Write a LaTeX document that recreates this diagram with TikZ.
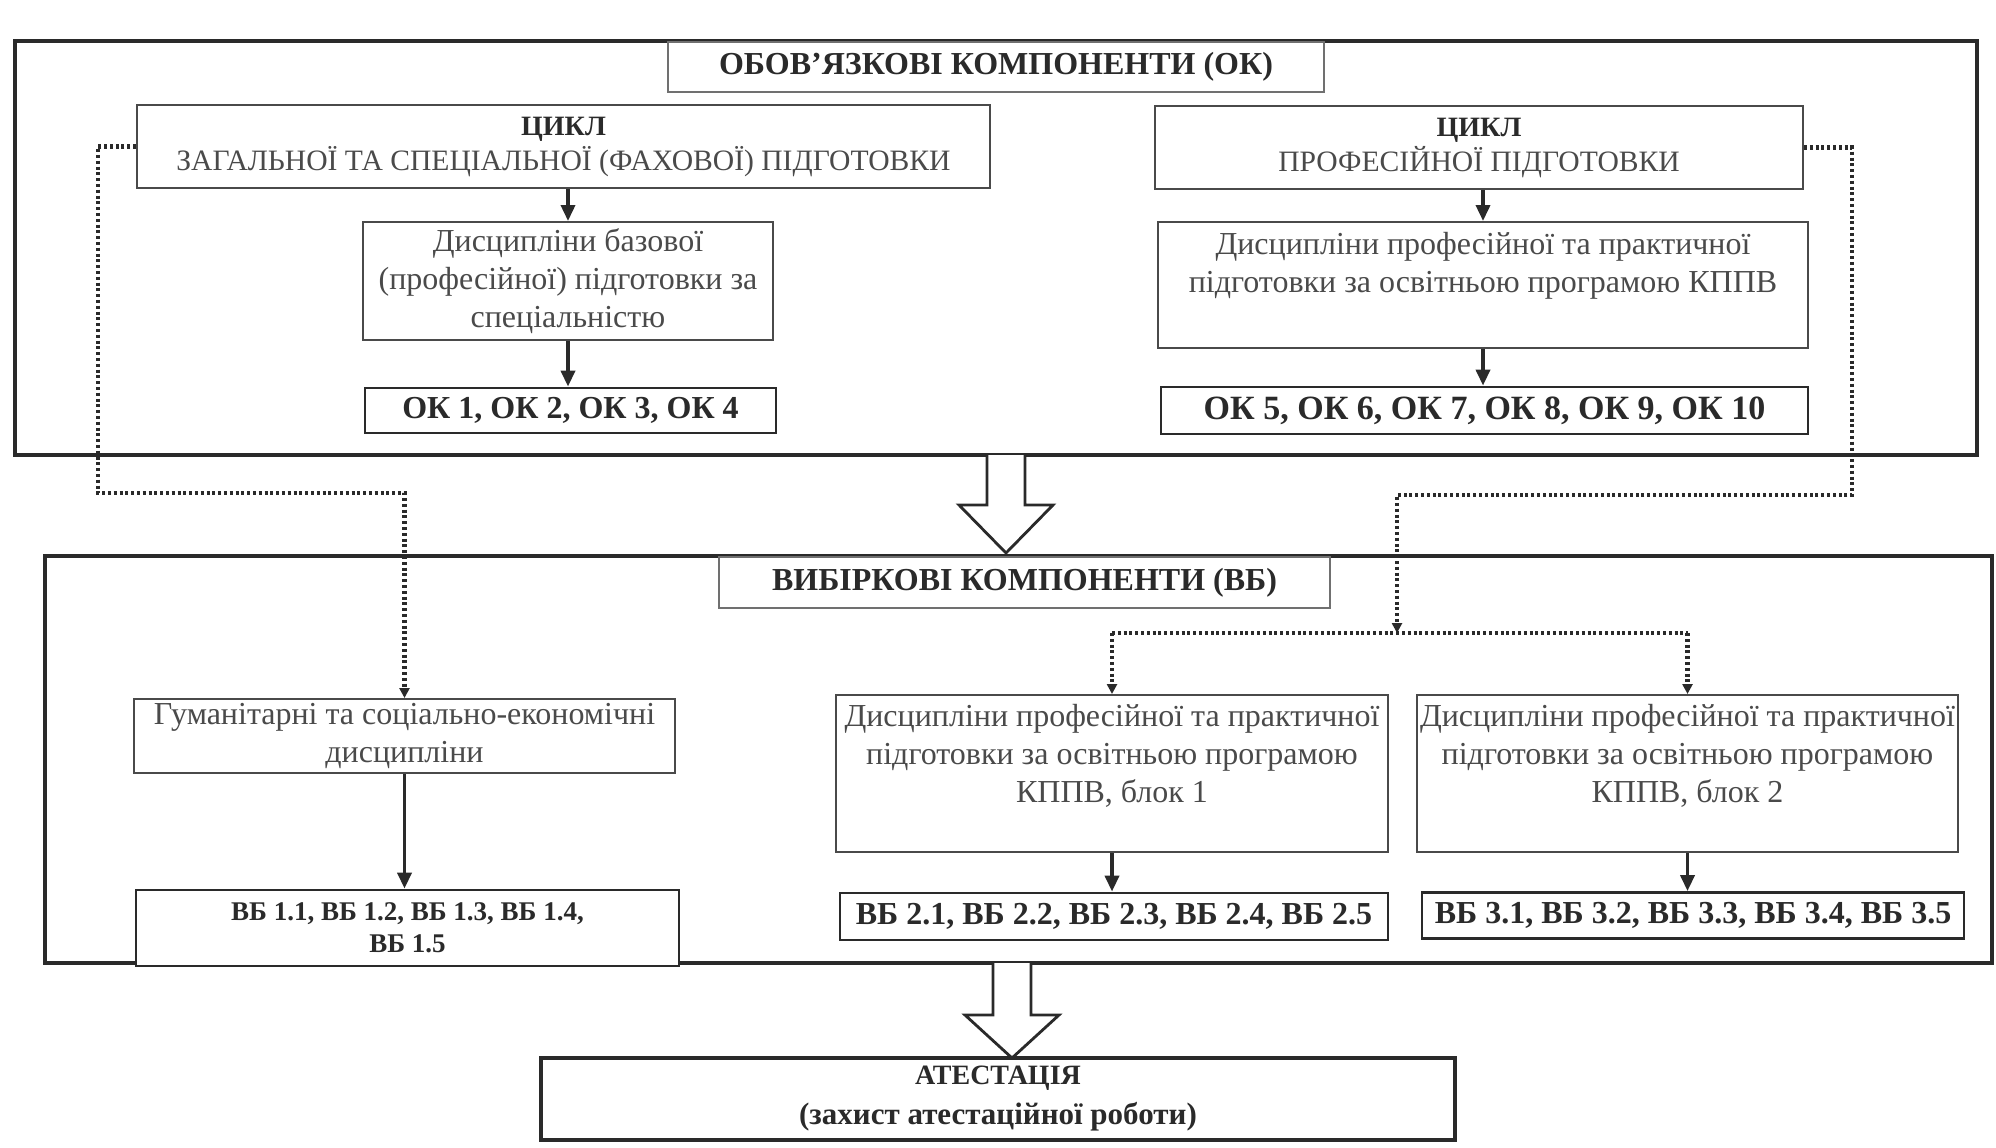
\documentclass[tikz,border=0pt]{standalone}
\usepackage{fontspec}
\setmainfont{Liberation Serif}
\usetikzlibrary{arrows.meta}
\definecolor{ink}{HTML}{2A2A2A}
\definecolor{lightink}{HTML}{4A4A4A}
\definecolor{titleline}{HTML}{707070}
\tikzset{
  outerbox/.style={draw=ink, line width=2pt, rectangle, inner sep=0pt},
  thinbox/.style={draw=lightink, line width=1pt, rectangle, fill=white, inner sep=0pt, align=center, text=lightink, font=\fontsize{16}{19}\selectfont},
  cyclebox/.style={thinbox, font=\fontsize{14.8}{17.5}\selectfont},
  boldlist/.style={draw=ink, line width=1.4pt, rectangle, fill=white, inner sep=0pt, align=center, text=ink, font=\bfseries\fontsize{16}{18}\selectfont},
  titlebox/.style={draw=titleline, line width=0.8pt, rectangle, fill=white, inner sep=0pt, align=center, text=ink, font=\bfseries\fontsize{16}{18}\selectfont},
  txt/.style={inner sep=0pt, align=center, text=lightink, font=\fontsize{16}{19}\selectfont},
  solidarrow/.style={draw=ink, line width=1.8pt, -{Triangle[length=8pt,width=7pt]}},
  dotline/.style={draw=ink, line width=2.2pt, dash pattern=on 1.5pt off 1.4pt},
  dotarrow/.style={dotline, -{Triangle[length=5pt,width=5pt]}},
  hollow/.style={draw=ink, line width=1.4pt, fill=white, line join=miter},
}
\begin{document}
\begin{tikzpicture}[x=0.5pt,y=-0.5pt]
\useasboundingbox (0,0) rectangle (1996,1147);
% outer boxes
\node[outerbox, minimum width=981pt, minimum height=207pt] (okouter) at (996,248) {};
\node[outerbox, minimum width=973.5pt, minimum height=203.5pt] (vbouter) at (1018.5,759.5) {};
% titles
\node[titlebox, minimum width=328pt, minimum height=25pt] (oktitle) at (996,67) {ОБОВ’ЯЗКОВІ КОМПОНЕНТИ (ОК)};
\node[titlebox, minimum width=305.5pt, minimum height=25.5pt] (vbtitle) at (1024.5,582.5) {ВИБІРКОВІ КОМПОНЕНТИ (ВБ)};
% OK left column
\node[cyclebox, minimum width=426.5pt, minimum height=41.5pt] (cycl) at (563.5,146.5) {{\bfseries\color{ink}\fontsize{14}{17.5}\selectfont ЦИКЛ}\\ЗАГАЛЬНОЇ ТА СПЕЦІАЛЬНОЇ (ФАХОВОЇ) ПІДГОТОВКИ};
\node[thinbox, minimum width=205pt, minimum height=59pt] (bazl) at (568,281) {Дисципліни базової\\(професійної) підготовки за\\спеціальністю};
\node[boldlist, minimum width=205.5pt, minimum height=22.5pt] (okl) at (570.5,410.5) {ОК 1, ОК 2, ОК 3, ОК 4};
% OK right column
\node[cyclebox, minimum width=324pt, minimum height=41.5pt] (cycr) at (1479,147.5) {{\bfseries\color{ink}\fontsize{14}{17.5}\selectfont ЦИКЛ}\\ПРОФЕСІЙНОЇ ПІДГОТОВКИ};
\node[thinbox, minimum width=325pt, minimum height=63pt] (profr) at (1483,285) {};
\node[txt, anchor=north] (profrtxt) at (1483,232) {Дисципліни професійної та практичної\\підготовки за освітньою програмою КППВ};
\node[boldlist, minimum width=323.5pt, minimum height=23.5pt, font=\bfseries\fontsize{17}{19}\selectfont] (okr) at (1484.5,410.5) {ОК 5, ОК 6, ОК 7, ОК 8, ОК 9, ОК 10};
% VB
\node[thinbox, minimum width=270.5pt, minimum height=37pt] (hum) at (404.5,736) {Гуманітарні та соціально-економічні\\дисципліни};
\node[boldlist, minimum width=271.5pt, minimum height=38pt, font=\bfseries\fontsize{13.5}{16}\selectfont] (vbone) at (407.5,928) {ВБ 1.1, ВБ 1.2, ВБ 1.3, ВБ 1.4,\\ВБ 1.5};
\node[thinbox, minimum width=276pt, minimum height=78.5pt] (blkone) at (1112,773.5) {};
\node[txt, anchor=north] (blkonetxt) at (1112,704) {Дисципліни професійної та практичної\\підготовки за освітньою програмою\\КППВ, блок 1};
\node[thinbox, minimum width=270.5pt, minimum height=78.5pt] (blktwo) at (1687.5,773.5) {};
\node[txt, anchor=north] (blktwotxt) at (1687.5,704) {Дисципліни професійної та практичної\\підготовки за освітньою програмою\\КППВ, блок 2};
\node[boldlist, minimum width=274pt, minimum height=23.5pt] (vbtwo) at (1114,916.5) {ВБ 2.1, ВБ 2.2, ВБ 2.3, ВБ 2.4, ВБ 2.5};
\node[boldlist, minimum width=271pt, minimum height=23pt] (vbthree) at (1693,915.5) {ВБ 3.1, ВБ 3.2, ВБ 3.3, ВБ 3.4, ВБ 3.5};
% attestation
\node[outerbox, fill=white, minimum width=457pt, minimum height=41pt, align=center, text=ink, font=\bfseries\fontsize{14}{20}\selectfont] (att) at (998,1099) {АТЕСТАЦІЯ\\{\fontsize{15.5}{16}\selectfont(захист атестаційної роботи)}};
% solid arrows
\draw[solidarrow] (cycl.south -| bazl.north) -- (bazl.north);
\draw[solidarrow] (bazl.south) -- (bazl.south |- okl.north);
\draw[solidarrow] (cycr.south -| profr.north) -- (profr.north);
\draw[solidarrow] (profr.south) -- (profr.south |- okr.north);
\draw[solidarrow] (hum.south) -- (hum.south |- vbone.north);
\draw[solidarrow] (blkone.south) -- (blkone.south |- vbtwo.north);
\draw[solidarrow] (blktwo.south) -- (blktwo.south |- vbthree.north);
% dotted connectors
\coordinate (la) at (98,146.5);
\coordinate (lb) at (98,493);
\coordinate (lc) at (404.5,493);
\draw[dotarrow] (cycl.west) -- (la) -- (lb) -- (lc) -- (hum.north);
\coordinate (ra) at (1852,147.5);
\coordinate (rb) at (1852,495);
\coordinate (rc) at (1397,495);
\coordinate (rd) at (1397,633);
\coordinate (re) at (1112,633);
\coordinate (rf) at (1687.5,633);
\draw[dotarrow] (cycr.east) -- (ra) -- (rb) -- (rc) -- (rd);
\draw[dotline] (re) -- (rf);
\draw[dotarrow] (re) -- (blkone.north);
\draw[dotarrow] (rf) -- (blktwo.north);
% hollow block arrows
\draw[hollow] (987,455) -- (987,505) -- (959,505) -- (1006,553) -- (1053,505) -- (1025,505) -- (1025,455);
\draw[hollow] (993,963) -- (993,1015) -- (965,1015) -- (1012,1058) -- (1059,1015) -- (1031,1015) -- (1031,963);
\end{tikzpicture}
\end{document}
